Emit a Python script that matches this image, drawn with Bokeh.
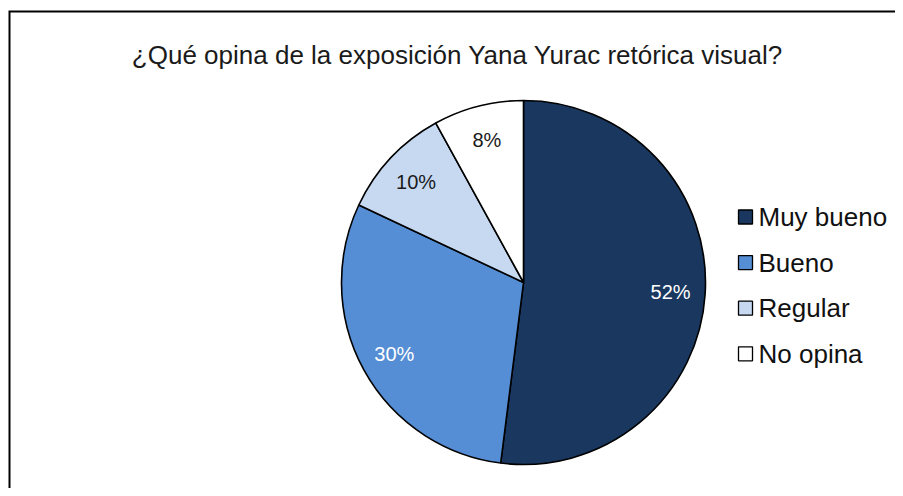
import math
from bokeh.plotting import figure
from bokeh.models import Range1d, ColumnDataSource
from bokeh.core.properties import value
from bokeh.embed import file_html
from bokeh.resources import INLINE

# ---- data ----
title_text = "¿Qué opina de la exposición Yana Yurac retórica visual?"
categories = ["Muy bueno", "Bueno", "Regular", "No opina"]
percents = [52, 30, 10, 8]
colors = ["#19375F", "#558ED5", "#C6D9F1", "#FFFFFF"]
label_colors = ["white", "white", "#1a1a1a", "#1a1a1a"]

W, H = 895, 488
FONT = "Liberation Sans"

p = figure(width=W, height=H, output_backend="svg", toolbar_location=None,
           x_range=Range1d(0, W), y_range=Range1d(0, H), min_border=0)
p.axis.visible = False
p.grid.visible = False
p.outline_line_color = None
p.background_fill_color = "white"
p.border_fill_color = "white"

# frame (left and top edges visible in reference)
FX, FY = 9, 477
p.line(x=[FX, FX, W + 5], y=[-5, FY, FY], line_color="black", line_width=2,
       line_join="miter")

# pie
cx, cy, R = 523, 206, 182
total = sum(percents)
starts, ends, lx, ly, labels = [], [], [], [], []
cum = 0.0
for v in percents:
    a0 = math.pi / 2 - 2 * math.pi * cum / total
    cum += v
    a1 = math.pi / 2 - 2 * math.pi * cum / total
    starts.append(a0)
    ends.append(a1)
    mid = (a0 + a1) / 2
    rr = R * 0.81
    lx.append(cx + rr * math.cos(mid))
    ly.append(cy + rr * math.sin(mid))
    labels.append(f"{v}%")

src = ColumnDataSource(dict(start=starts, end=ends, color=colors,
                            lx=lx, ly=ly, label=labels, lc=label_colors))
p.wedge(x=cx, y=cy, radius=R, radius_units="screen", start_angle="start",
        end_angle="end", direction="clock", fill_color="color",
        line_color="black", line_width=1.6, source=src)
p.text(x="lx", y="ly", text="label", text_color="lc", source=src,
       text_font=value(FONT), text_font_size="20px",
       text_align="center", text_baseline="middle")

# title
p.text(x=[457], y=[434], text=[title_text], text_font=value(FONT),
       text_font_size="26px", text_color="#1a1a1a",
       text_align="center", text_baseline="middle")

# legend
leg_y = [271.5 - i * 45.6 for i in range(len(categories))]
p.scatter(x=[745] * len(categories), y=leg_y, marker="square", size=14,
          fill_color=colors, line_color="black", line_width=1.3)
p.text(x=[758] * len(categories), y=leg_y, text=categories,
       text_font=value(FONT), text_font_size="26px", text_color="#111111",
       text_align="left", text_baseline="middle")

open("out.html", "w").write(file_html(p, INLINE))
